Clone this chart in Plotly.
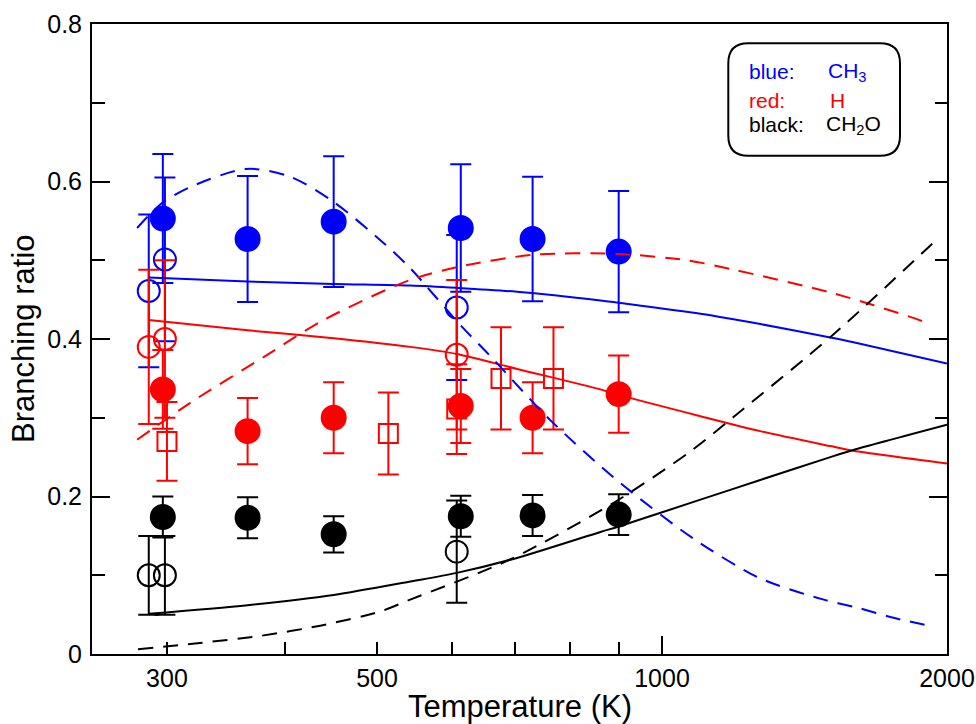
import math
import plotly.graph_objects as go

# ---------------- data ----------------
# filled circles (one data set)
T_FILLED = [297, 365, 450, 613, 730, 900]
CH3_FILLED = [0.553, 0.527, 0.549, 0.541, 0.527, 0.511]
CH3_FILLED_ERR = [0.082, 0.080, 0.083, 0.081, 0.079, 0.077]
H_FILLED = [0.336, 0.283, 0.300, 0.315, 0.300, 0.330]
H_FILLED_ERR = [0.050, 0.042, 0.045, 0.047, 0.045, 0.049]
CH2O_FILLED = [0.174, 0.173, 0.152, 0.175, 0.176, 0.177]
CH2O_FILLED_ERR = [0.026, 0.026, 0.023, 0.026, 0.026, 0.026]

# open circles (second data set)
T_OPEN = [287, 298.5, 607]
CH3_OPEN = [0.461, 0.501, 0.440]
CH3_OPEN_ERR = [0.097, 0.104, 0.092]
H_OPEN = [0.390, 0.400, 0.380]
H_OPEN_ERR = [0.098, 0.100, 0.095]
CH2O_OPEN = [0.100, 0.100, 0.130]
CH2O_OPEN_ERR = [0.050, 0.050, 0.065]

# open squares (H only)
T_SQUARE = [300, 514, 607, 676, 768]
H_SQUARE = [0.270, 0.280, 0.311, 0.350, 0.350]
H_SQUARE_ERR = [0.050, 0.052, 0.057, 0.065, 0.065]

# model curves, solid
T_SOLID = [287, 365, 450, 542, 607, 703, 861, 900, 1098, 1270, 1506, 1593, 2000]
CH3_SOLID = [0.478, 0.473, 0.470, 0.468, 0.465, 0.460, 0.449, 0.446, 0.432, 0.419, 0.402, 0.396, 0.369]
H_SOLID = [0.424, 0.411, 0.401, 0.390, 0.381, 0.362, 0.336, 0.329, 0.302, 0.283, 0.264, 0.258, 0.242]
CH2O_SOLID = [0.051, 0.062, 0.075, 0.092, 0.103, 0.122, 0.155, 0.162, 0.196, 0.221, 0.250, 0.259, 0.291]

# model curves, dashed
T_DASH_CH3 = [279, 296, 317.5, 364, 405, 450, 508, 542, 612, 659, 762, 904, 1084, 1270, 1482, 1606, 1756, 1912]
CH3_DASH = [0.541, 0.572, 0.593, 0.616, 0.606, 0.574, 0.522, 0.490, 0.418, 0.378, 0.297, 0.217, 0.145, 0.096, 0.069, 0.059, 0.046, 0.036]
T_DASH_H = [279, 317.5, 379.5, 439, 542, 612, 732, 897, 1063, 1190, 1518, 1890, 1920]
H_DASH = [0.272, 0.319, 0.377, 0.424, 0.475, 0.492, 0.507, 0.508, 0.500, 0.488, 0.458, 0.422, 0.418]
T_DASH_CH2O = [279.6, 325, 376.5, 435.5, 504, 542, 691, 889, 1071, 1190, 1518, 1945]
CH2O_DASH = [0.006, 0.014, 0.023, 0.036, 0.054, 0.069, 0.120, 0.192, 0.257, 0.301, 0.406, 0.525]

X_TICKS = [300, 500, 1000, 2000]
X_TICK_TEXT = ["300", "500", "1000", "2000"]
X_MINOR_TICKS = [400, 600, 700, 800, 900]
X_LONG_TICKS = [1000]
Y_TICKS = [0, 0.2, 0.4, 0.6, 0.8]
Y_TICK_TEXT = ["0", "0.2", "0.4", "0.6", "0.8"]
Y_MINOR_TICKS = [0.1, 0.3, 0.5, 0.7]

BLUE, RED, BLACK = "#0000FF", "#FF0000", "#000000"

# ---------------- figure ----------------
W_, H_ = 976, 724
ML, MR, MT, MB = 92, 29, 24, 70
PW, PH = W_ - ML - MR, H_ - MT - MB


def px(x):
    return (x - ML) / PW


def py(y):
    return (H_ - MB - y) / PH


fig = go.Figure()


def add_points(xs, ys, errs, color, symbol, size):
    fig.add_trace(go.Scatter(
        x=xs, y=ys, mode="markers", showlegend=False,
        marker=dict(symbol=symbol, size=size, color=color,
                    line=dict(color=color, width=2)),
        error_y=dict(type="data", array=errs, visible=True,
                     color=color, thickness=2, width=10.5),
    ))


for color, filled, ferr, opn, oerr in [
    (BLUE, CH3_FILLED, CH3_FILLED_ERR, CH3_OPEN, CH3_OPEN_ERR),
    (RED, H_FILLED, H_FILLED_ERR, H_OPEN, H_OPEN_ERR),
    (BLACK, CH2O_FILLED, CH2O_FILLED_ERR, CH2O_OPEN, CH2O_OPEN_ERR),
]:
    add_points(T_OPEN, opn, oerr, color, "circle-open", 22)
    add_points(T_FILLED, filled, ferr, color, "circle", 24)
    if color == RED:
        add_points(T_SQUARE, H_SQUARE, H_SQUARE_ERR, RED, "square-open", 19)

DASH = "15px,10px"
for xs, ys, color, dash in [
    (T_SOLID, CH3_SOLID, BLUE, "solid"),
    (T_SOLID, H_SOLID, RED, "solid"),
    (T_SOLID, CH2O_SOLID, BLACK, "solid"),
    (T_DASH_CH3, CH3_DASH, BLUE, DASH),
    (T_DASH_H, H_DASH, RED, DASH),
    (T_DASH_CH2O, CH2O_DASH, BLACK, DASH),
]:
    fig.add_trace(go.Scatter(
        x=xs, y=ys, mode="lines", showlegend=False,
        line=dict(color=color, width=2, dash=dash, shape="spline", smoothing=0.8),
    ))

# helper trace so the overlaid axis carrying the long 1000 tick is drawn
fig.add_trace(go.Scatter(x=X_LONG_TICKS, y=[0], xaxis="x2", mode="markers",
                         marker=dict(opacity=0), showlegend=False, hoverinfo="skip"))

TICKFONT = dict(family="Liberation Sans, Arial, sans-serif", size=25, color="black")
xr = [math.log10(250), math.log10(2000)]

fig.update_layout(
    width=W_, height=H_,
    margin=dict(l=ML, r=MR, t=MT, b=MB, autoexpand=False),
    paper_bgcolor="white", plot_bgcolor="white",
    xaxis=dict(type="log", range=xr, showgrid=False, zeroline=False, automargin=False,
               showline=True, linecolor="black", linewidth=2, mirror=True,
               ticks="inside", ticklen=12, tickwidth=2, tickcolor="black",
               tickmode="array", tickvals=X_TICKS, ticktext=X_TICK_TEXT,
               tickfont=TICKFONT, ticklabelstandoff=1,
               minor=dict(tickmode="array", tickvals=X_MINOR_TICKS, ticks="inside",
                          ticklen=12, tickwidth=2, tickcolor="black", showgrid=False)),
    xaxis2=dict(type="log", range=xr, overlaying="x", anchor="y", side="bottom",
                showgrid=False, zeroline=False, showline=False, automargin=False,
                ticks="inside", ticklen=18, tickwidth=2, tickcolor="black",
                tickmode="array", tickvals=X_LONG_TICKS, showticklabels=False),
    yaxis=dict(range=[0, 0.8], showgrid=False, zeroline=False, automargin=False,
               showline=True, linecolor="black", linewidth=2, mirror="ticks",
               ticks="inside", ticklen=18, tickwidth=2, tickcolor="black",
               tickmode="array", tickvals=Y_TICKS, ticktext=Y_TICK_TEXT,
               tickfont=TICKFONT, ticklabelstandoff=3,
               minor=dict(tickmode="array", tickvals=Y_MINOR_TICKS, ticks="inside",
                          ticklen=12.5, tickwidth=2, tickcolor="black", showgrid=False)),
)

TITLEFONT = dict(family="Liberation Sans Narrow, Arial Narrow, Liberation Sans, Arial",
                 size=31, color="black")
fig.add_annotation(text="Temperature (K)", xref="paper", yref="paper",
                   x=0.5, y=py(706), xanchor="center", yanchor="middle",
                   showarrow=False, font=TITLEFONT)
fig.add_annotation(text="Branching ratio", xref="paper", yref="paper",
                   x=px(23), y=0.5, xanchor="center", yanchor="middle",
                   textangle=-90, showarrow=False, font=TITLEFONT)

# key box (rounded rectangle)
a, b, c, d = px(728.3), px(900), py(155.7), py(43.3)
rx, ry = 20 / PW, 20 / PH
path = (f"M {a+rx},{d} L {b-rx},{d} Q {b},{d} {b},{d-ry} L {b},{c+ry} "
        f"Q {b},{c} {b-rx},{c} L {a+rx},{c} Q {a},{c} {a},{c+ry} "
        f"L {a},{d-ry} Q {a},{d} {a+rx},{d} Z")
fig.add_shape(type="path", path=path, xref="paper", yref="paper",
              line=dict(color="black", width=2), fillcolor="white", layer="above")

KEYFONT = "Liberation Sans, Arial, sans-serif"
for label, species, color, ycen, xs in [
    ("blue:", "CH<sub>3</sub>", BLUE, 72, 826),
    ("red:", "H", RED, 100, 828),
    ("black:", "CH<sub>2</sub>O", BLACK, 125, 824),
]:
    fig.add_annotation(text=label, xref="paper", yref="paper", x=px(747), y=py(ycen),
                       xanchor="left", yanchor="middle", showarrow=False,
                       font=dict(family=KEYFONT, size=21, color=color))
    fig.add_annotation(text=species, xref="paper", yref="paper", x=px(xs), y=py(ycen),
                       xanchor="left", yanchor="middle", showarrow=False,
                       font=dict(family=KEYFONT, size=21, color=color))

fig.write_html("out.html", config={"displayModeBar": False})

# remove the browser's default page margin so the figure sits at the window origin
with open("out.html", "r", encoding="utf-8") as fh:
    html = fh.read()
html = html.replace("<head>", "<head><style>html,body{margin:0;padding:0;overflow:hidden;}</style>", 1)
with open("out.html", "w", encoding="utf-8") as fh:
    fh.write(html)
